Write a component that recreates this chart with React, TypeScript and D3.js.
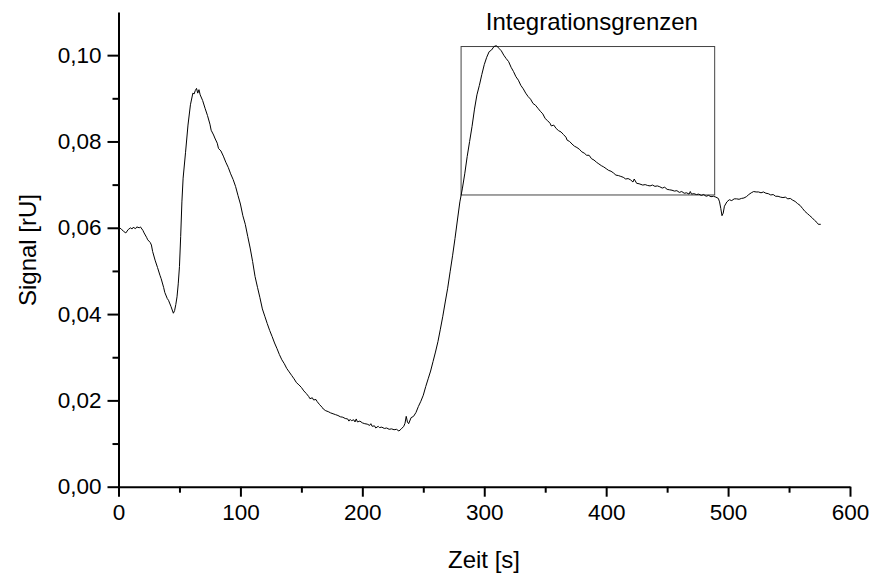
import React, { useEffect, useRef } from "react";
import * as d3 from "d3";

const times: number[] = [
  0, 2, 4, 6, 8, 10, 11, 12, 14, 15, 17, 18, 20, 21, 23, 24, 26, 27, 28, 30,
  32, 34, 35, 37, 38, 40, 41, 43, 45, 46, 47, 48, 49, 50, 51, 52, 53, 55, 57, 59,
  61, 62, 63, 64, 65, 66, 67, 69, 71, 73, 75, 76, 78, 79, 81, 82, 84, 86, 88, 90,
  92, 94, 96, 98, 100, 102, 104, 106, 108, 110, 112, 114, 116, 118, 120, 122, 124, 126, 128, 130,
  132, 134, 136, 138, 140, 142, 144, 146, 148, 150, 152, 154, 156, 157, 159, 160, 162, 163, 165, 167,
  168, 170, 172, 174, 176, 178, 180, 182, 184, 186, 188, 189, 190, 191, 193, 194, 195, 196, 198, 200,
  202, 204, 206, 207, 208, 210, 211, 213, 214, 216, 218, 220, 222, 224, 226, 228, 230, 232, 234, 235,
  236, 237, 238, 240, 242, 244, 246, 248, 250, 252, 254, 256, 258, 260, 262, 264, 266, 268, 270, 272,
  274, 276, 278, 280, 282, 284, 286, 288, 290, 292, 294, 296, 298, 300, 302, 304, 306, 308, 310, 312,
  314, 316, 318, 320, 322, 324, 326, 328, 330, 332, 334, 336, 338, 340, 342, 344, 346, 348, 350, 352,
  354, 355, 357, 359, 361, 363, 365, 367, 368, 370, 372, 374, 376, 378, 380, 382, 384, 386, 388, 390,
  392, 394, 396, 398, 400, 402, 404, 406, 408, 410, 412, 414, 416, 418, 420, 422, 423, 425, 427, 430,
  432, 434, 436, 438, 440, 442, 444, 446, 448, 450, 452, 454, 456, 458, 460, 462, 464, 466, 468, 469,
  470, 472, 474, 476, 478, 480, 482, 484, 486, 488, 490, 492, 493, 494, 495, 496, 497, 499, 501, 503,
  505, 507, 509, 511, 513, 515, 517, 519, 521, 523, 525, 527, 529, 531, 533, 535, 537, 539, 541, 543,
  545, 547, 549, 551, 553, 555, 557, 559, 561, 563, 565, 567, 569, 571, 573, 574, 576,
];

const signal: number[] = [
  0.0600, 0.0598, 0.0592, 0.0588, 0.0596, 0.0600, 0.0597, 0.0601, 0.0598, 0.0602, 0.0600, 0.0602, 0.0594, 0.0588, 0.0578, 0.0572, 0.0566, 0.0560, 0.0545, 0.0525,
  0.0508, 0.0490, 0.0482, 0.0462, 0.0450, 0.0436, 0.0432, 0.0418, 0.0402, 0.0408, 0.0422, 0.0440, 0.0470, 0.0510, 0.0580, 0.0660, 0.0715, 0.0775, 0.0838, 0.0885,
  0.0912, 0.0910, 0.0918, 0.0923, 0.0912, 0.0920, 0.0908, 0.0895, 0.0877, 0.0860, 0.0840, 0.0826, 0.0815, 0.0808, 0.0796, 0.0784, 0.0778, 0.0766, 0.0752, 0.0740,
  0.0725, 0.0712, 0.0696, 0.0675, 0.0655, 0.0628, 0.0608, 0.0580, 0.0553, 0.0522, 0.0487, 0.0462, 0.0438, 0.0412, 0.0395, 0.0378, 0.0362, 0.0348, 0.0333, 0.0320,
  0.0306, 0.0294, 0.0285, 0.0274, 0.0266, 0.0258, 0.0250, 0.0241, 0.0236, 0.0230, 0.0222, 0.0216, 0.0209, 0.0204, 0.0206, 0.0201, 0.0202, 0.0197, 0.0190, 0.0184,
  0.0180, 0.0176, 0.0174, 0.0171, 0.0169, 0.0167, 0.0165, 0.0162, 0.0161, 0.0158, 0.0157, 0.0152, 0.0156, 0.0153, 0.0155, 0.0150, 0.0157, 0.0150, 0.0152, 0.0148,
  0.0146, 0.0145, 0.0142, 0.0146, 0.0140, 0.0141, 0.0136, 0.0140, 0.0137, 0.0138, 0.0135, 0.0136, 0.0133, 0.0134, 0.0132, 0.0133, 0.0129, 0.0134, 0.0140, 0.0147,
  0.0163, 0.0150, 0.0146, 0.0160, 0.0163, 0.0172, 0.0186, 0.0198, 0.0212, 0.0232, 0.0250, 0.0268, 0.0290, 0.0312, 0.0336, 0.0365, 0.0395, 0.0428, 0.0460, 0.0498,
  0.0535, 0.0575, 0.0618, 0.0660, 0.0690, 0.0725, 0.0765, 0.0800, 0.0835, 0.0875, 0.0908, 0.0930, 0.0955, 0.0978, 0.0995, 0.1008, 0.1012, 0.1020, 0.1022, 0.1016,
  0.1010, 0.1000, 0.0992, 0.0985, 0.0972, 0.0962, 0.0950, 0.0942, 0.0930, 0.0922, 0.0912, 0.0904, 0.0898, 0.0888, 0.0884, 0.0877, 0.0870, 0.0864, 0.0853, 0.0848,
  0.0842, 0.0836, 0.0838, 0.0830, 0.0825, 0.0822, 0.0816, 0.0810, 0.0803, 0.0800, 0.0794, 0.0789, 0.0786, 0.0782, 0.0776, 0.0773, 0.0768, 0.0768, 0.0760, 0.0757,
  0.0752, 0.0748, 0.0744, 0.0741, 0.0737, 0.0733, 0.0731, 0.0727, 0.0722, 0.0721, 0.0719, 0.0717, 0.0713, 0.0714, 0.0711, 0.0706, 0.0713, 0.0703, 0.0702, 0.0699,
  0.0700, 0.0698, 0.0697, 0.0699, 0.0696, 0.0697, 0.0695, 0.0692, 0.0694, 0.0689, 0.0688, 0.0687, 0.0685, 0.0686, 0.0682, 0.0684, 0.0680, 0.0681, 0.0678, 0.0684,
  0.0678, 0.0679, 0.0677, 0.0678, 0.0675, 0.0677, 0.0673, 0.0675, 0.0672, 0.0673, 0.0671, 0.0668, 0.0660, 0.0645, 0.0628, 0.0634, 0.0650, 0.0660, 0.0665, 0.0663,
  0.0667, 0.0667, 0.0666, 0.0668, 0.0669, 0.0672, 0.0677, 0.0681, 0.0684, 0.0683, 0.0683, 0.0681, 0.0683, 0.0680, 0.0679, 0.0676, 0.0677, 0.0673, 0.0673, 0.0671,
  0.0670, 0.0671, 0.0667, 0.0668, 0.0664, 0.0661, 0.0656, 0.0652, 0.0645, 0.0638, 0.0633, 0.0628, 0.0623, 0.0617, 0.0612, 0.0608, 0.0608,
];

const xMajorTicks: number[] = [0, 100, 200, 300, 400, 500, 600];
const xMinorTicks: number[] = [50, 150, 250, 350, 450, 550];
const yMajorTicks: number[] = [0, 0.02, 0.04, 0.06, 0.08, 0.1];
const yMinorTicks: number[] = [0.01, 0.03, 0.05, 0.07, 0.09];

const boxTimes: number[] = [281, 489];
const boxSignal: number[] = [0.0676, 0.102];
const boxLabel = "Integrationsgrenzen";
const xTitle = "Zeit [s]";
const yTitle = "Signal [rU]";

const W = 870;
const H = 575;
const FONT = "Arial, 'Liberation Sans', sans-serif";

export default function App() {
  const ref = useRef<SVGSVGElement | null>(null);

  useEffect(() => {
    const svg = d3.select(ref.current);
    svg.selectAll("*").remove();

    const x = d3.scaleLinear().domain([0, 600]).range([118.5, 850]);
    const y = d3.scaleLinear().domain([0, 0.11]).range([486.7, 12]);
    const fmt = (v: number) => d3.format(".2f")(v).replace(".", ",");

    // x axis
    const gx = svg.append("g").attr("transform", `translate(0,${y(0)})`);
    gx.call(
      d3.axisBottom(x).tickValues(xMajorTicks).tickSize(10).tickSizeOuter(0).tickPadding(7).tickFormat((d) => String(d))
    );
    gx.append("g").call(
      d3.axisBottom(x).tickValues(xMinorTicks).tickSize(6).tickSizeOuter(0).tickFormat(() => "")
    ).select(".domain").remove();

    // y axis
    const gy = svg.append("g").attr("transform", `translate(${x(0)},0)`);
    gy.call(
      d3.axisLeft(y).tickValues(yMajorTicks).tickSize(11).tickSizeOuter(0).tickPadding(6).tickFormat((d) => fmt(d as number))
    );
    gy.append("g").call(
      d3.axisLeft(y).tickValues(yMinorTicks).tickSize(6).tickSizeOuter(0).tickFormat(() => "")
    ).select(".domain").remove();

    svg.selectAll(".domain").attr("stroke", "#000").attr("stroke-width", 2);
    svg.selectAll(".tick line").attr("stroke", "#000").attr("stroke-width", 2);
    svg.selectAll(".tick text")
      .attr("fill", "#000")
      .style("font-family", FONT)
      .style("font-size", "22.5px");

    // integration box
    svg.append("rect")
      .attr("x", x(boxTimes[0]))
      .attr("y", y(boxSignal[1]))
      .attr("width", x(boxTimes[1]) - x(boxTimes[0]))
      .attr("height", y(boxSignal[0]) - y(boxSignal[1]))
      .attr("fill", "none")
      .attr("stroke", "#444")
      .attr("stroke-width", 1);

    svg.append("text")
      .attr("x", x((boxTimes[0] + boxTimes[1]) / 2) + 4)
      .attr("y", 30)
      .attr("text-anchor", "middle")
      .style("font-family", FONT)
      .style("font-size", "24px")
      .text(boxLabel);

    // curve
    const pts = times.map((t, i) => [t, signal[i]] as [number, number]);
    const line = d3.line<[number, number]>().x((d) => x(d[0])).y((d) => y(d[1]));
    svg.append("path")
      .attr("d", line(pts) || "")
      .attr("fill", "none")
      .attr("stroke", "#000")
      .attr("stroke-width", 1);

    // titles
    svg.append("text")
      .attr("x", 484)
      .attr("y", 568)
      .attr("text-anchor", "middle")
      .style("font-family", FONT)
      .style("font-size", "24px")
      .text(xTitle);

    svg.append("text")
      .attr("transform", `translate(36,250) rotate(-90)`)
      .attr("text-anchor", "middle")
      .style("font-family", FONT)
      .style("font-size", "24px")
      .text(yTitle);
  }, []);

  return (
    <div style={{ position: "absolute", left: 0, top: 0, width: W, height: H, background: "#fff" }}>
      <svg ref={ref} width={W} height={H} />
    </div>
  );
}
